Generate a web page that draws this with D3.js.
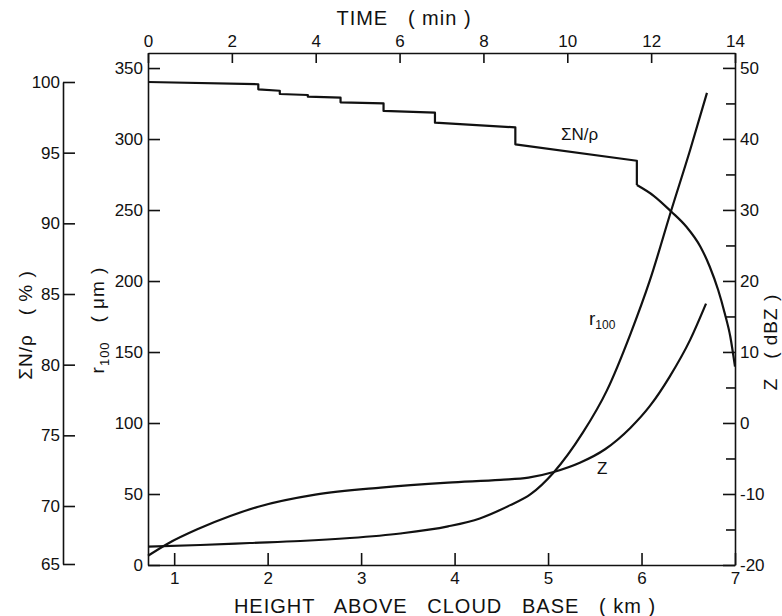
<!DOCTYPE html>
<html>
<head>
<meta charset="utf-8">
<script src="https://cdn.jsdelivr.net/npm/d3@7"></script>
<style>
  body { margin: 0; background: #fff; }
  svg { display: block; font-family: "Liberation Sans", Arial, sans-serif; }
  .axis path, .axis line { stroke: #111; stroke-width: 1.6; }
  .axis text { font-size: 17px; fill: #111; font-family: "Liberation Sans", Arial, sans-serif; }
  .curve { fill: none; stroke: #111; stroke-width: 2.2; stroke-linejoin: round; }
  .lbl { fill: #111; white-space: pre; }
  .title { letter-spacing: 1px; }
</style>
</head>
<body>
<svg id="chart" width="782" height="616"></svg>
<script>
// tick values
var heightTicks = [1, 2, 3, 4, 5, 6, 7];
var timeTicks = [0, 2, 4, 6, 8, 10, 12, 14];
var r100Ticks = [0, 50, 100, 150, 200, 250, 300, 350];
var sumTicks = [65, 70, 75, 80, 85, 90, 95, 100];
var zTicks = [-20, -15, -10, -5, 0, 5, 10, 15, 20, 25, 30, 35, 40, 45, 50];

// Sum N/rho (%) vs height (km): stepped part, then smooth tail
var sumStepHeight = [0.72, 1.90, 1.90, 2.13, 2.13, 2.43, 2.43, 2.78, 2.78, 3.24, 3.24, 3.79, 3.79, 4.65, 4.65, 5.95, 5.95];
var sumStepPct = [100, 99.84, 99.48, 99.38, 99.15, 99.08, 98.96, 98.89, 98.56, 98.49, 97.95, 97.83, 97.12, 96.79, 95.59, 94.43, 92.71];
var sumTailHeight = [5.95, 6.13, 6.32, 6.48, 6.63, 6.73, 6.82, 6.89, 6.95, 7.0];
var sumTailPct = [92.71, 91.95, 90.82, 89.76, 88.35, 86.93, 85.28, 83.64, 81.98, 79.86];

// r100 (um) vs height
var r100Height = [0.72, 1.28, 1.81, 2.35, 2.88, 3.42, 3.93, 4.27, 4.59, 4.81, 5.06, 5.37, 5.63, 5.88, 6.09, 6.32, 6.52, 6.70];
var r100Val = [13.0, 14.1, 15.5, 16.9, 19.0, 22.2, 27.2, 32.8, 42.0, 49.7, 65.2, 93.0, 123.0, 162.5, 200.6, 250.2, 292.3, 332.5];

// Z (dBZ) vs height
var zHeight = [0.72, 0.93, 1.26, 1.60, 1.90, 2.51, 3.21, 3.93, 4.49, 4.79, 5.06, 5.34, 5.61, 5.88, 6.09, 6.30, 6.52, 6.69];
var zVal = [-18.7, -17.0, -14.9, -13.1, -11.8, -10.1, -9.1, -8.4, -8.0, -7.7, -6.9, -5.6, -3.7, -0.7, 2.4, 6.5, 11.7, 16.8];

var svg = d3.select("#chart");

var x = d3.scaleLinear().domain([0.72, 7]).range([148, 735]);
var xTime = d3.scaleLinear().domain([0, 14]).range([148, 735]);
var yR = d3.scaleLinear().domain([0, 360.6]).range([565, 53]);
var yZ = d3.scaleLinear().domain([-20, 52.1]).range([565, 53]);
var yS = d3.scaleLinear().domain([65, 70, 100]).range([564, 506, 82]);

// bottom axis (height)
svg.append("g")
    .attr("class", "axis")
    .attr("transform", "translate(0,565)")
    .call(d3.axisBottom(x).tickValues(heightTicks).tickFormat(d3.format("d"))
        .tickSizeInner(-12).tickSizeOuter(0).tickPadding(7));

// top axis (time)
svg.append("g")
    .attr("class", "axis")
    .attr("transform", "translate(0,53)")
    .call(d3.axisTop(xTime).tickValues(timeTicks).tickSizeInner(-10).tickSizeOuter(0).tickPadding(6));

// r100 axis
svg.append("g")
    .attr("class", "axis")
    .attr("transform", "translate(148,0)")
    .call(d3.axisLeft(yR).tickValues(r100Ticks).tickSizeInner(-12).tickSizeOuter(0).tickPadding(5));

// Z axis
var zAxis = svg.append("g")
    .attr("class", "axis")
    .attr("transform", "translate(735,0)")
    .call(d3.axisRight(yZ).tickValues(zTicks).tickSizeInner(-12).tickSizeOuter(0).tickPadding(5)
        .tickFormat(function(d) { return d % 10 === 0 ? String(d) : ""; }));
zAxis.selectAll(".tick line")
    .attr("x2", function(d) { return d % 10 === 0 ? -12 : -9; });

// Sum N/rho axis
svg.append("g")
    .attr("class", "axis")
    .attr("transform", "translate(63,0)")
    .call(d3.axisLeft(yS).tickValues(sumTicks).tickSizeInner(-12).tickSizeOuter(0).tickPadding(3));

// curves
var stepLine = d3.line()
    .x(function(d, i) { return x(sumStepHeight[i]); })
    .y(function(d, i) { return yS(sumStepPct[i]); });
svg.append("path").attr("class", "curve").attr("d", stepLine(sumStepHeight));

var tailLine = d3.line()
    .curve(d3.curveMonotoneX)
    .x(function(d, i) { return x(sumTailHeight[i]); })
    .y(function(d, i) { return yS(sumTailPct[i]); });
svg.append("path").attr("class", "curve").attr("d", tailLine(sumTailHeight));

var r100Line = d3.line()
    .curve(d3.curveMonotoneX)
    .x(function(d, i) { return x(r100Height[i]); })
    .y(function(d, i) { return yR(r100Val[i]); });
svg.append("path").attr("class", "curve").attr("d", r100Line(r100Height));

var zLine = d3.line()
    .curve(d3.curveMonotoneX)
    .x(function(d, i) { return x(zHeight[i]); })
    .y(function(d, i) { return yZ(zVal[i]); });
svg.append("path").attr("class", "curve").attr("d", zLine(zHeight));

// curve labels
svg.append("text").attr("class", "lbl").attr("x", 561).attr("y", 140).style("font-size", "17px").text("ΣN/ρ");
var rl = svg.append("text").attr("class", "lbl").attr("x", 589).attr("y", 325).style("font-size", "19px");
rl.append("tspan").text("r");
rl.append("tspan").attr("dy", 4).style("font-size", "12px").text("100");
svg.append("text").attr("class", "lbl").attr("x", 597).attr("y", 474).style("font-size", "17px").text("Z");

// axis titles
svg.append("text").attr("class", "lbl title")
    .attr("x", 404).attr("y", 25).attr("text-anchor", "middle").style("font-size", "20px")
    .text("TIME   ( min )");
svg.append("text").attr("class", "lbl title")
    .attr("x", 445).attr("y", 613).attr("text-anchor", "middle").style("font-size", "20px")
    .text("HEIGHT   ABOVE   CLOUD   BASE   ( km )");
svg.append("text").attr("class", "lbl title")
    .attr("transform", "translate(32,325) rotate(-90)").attr("text-anchor", "middle").style("font-size", "19px")
    .text("ΣN/ρ   ( % )");
var rt = svg.append("text").attr("class", "lbl title")
    .attr("transform", "translate(104,320) rotate(-90)").attr("text-anchor", "middle").style("font-size", "19px");
rt.append("tspan").text("r");
rt.append("tspan").attr("dy", 5).style("font-size", "13px").text("100");
rt.append("tspan").attr("dy", -5).text("   ( μm )");
svg.append("text").attr("class", "lbl title")
    .attr("transform", "translate(777,342) rotate(-90)").attr("text-anchor", "middle").style("font-size", "19px")
    .text("Z   ( dBZ )");
</script>
</body>
</html>
